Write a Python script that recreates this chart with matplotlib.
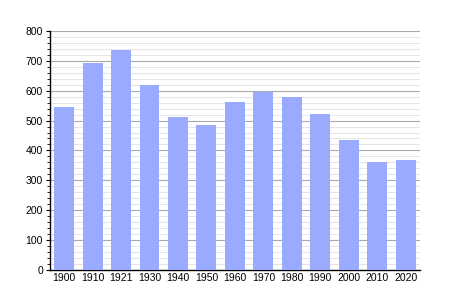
import matplotlib
matplotlib.use('Agg')
import matplotlib.pyplot as plt
from matplotlib.ticker import MultipleLocator

plt.rcParams['font.family'] = ['Liberation Sans', 'DejaVu Sans']

years = ['1900', '1910', '1921', '1930', '1940', '1950', '1960',
         '1970', '1980', '1990', '2000', '2010', '2020']
population = [544, 692, 735, 618, 511, 484, 562, 595, 579, 521, 435, 360, 368]

fig = plt.figure(figsize=(4.5, 3), dpi=100)
ax = fig.add_axes([0.111, 0.1, 0.822, 0.797])

x = range(len(years))
ax.bar(x, population, width=0.70, color='#99aaff', zorder=3)

ax.set_xlim(-0.5, len(years) - 0.5)
ax.set_ylim(0, 800)
ax.yaxis.set_major_locator(MultipleLocator(100))
ax.yaxis.set_minor_locator(MultipleLocator(20))
ax.grid(which='major', axis='y', color='#aaaaaa', linewidth=0.8, zorder=0)
ax.grid(which='minor', axis='y', color='#e0e0e0', linewidth=0.6, zorder=0)

ax.set_xticks(list(x))
ax.set_xticklabels(years)
ax.tick_params(axis='x', length=0, labelsize=7.5, pad=2)
ax.tick_params(axis='y', which='major', length=3, labelsize=7.5, pad=2)
ax.tick_params(axis='y', which='minor', length=2)

for side in ['top', 'right']:
    ax.spines[side].set_visible(False)
ax.spines['left'].set_linewidth(1)
ax.spines['bottom'].set_linewidth(1)

fig.savefig('out.png', dpi=100)
